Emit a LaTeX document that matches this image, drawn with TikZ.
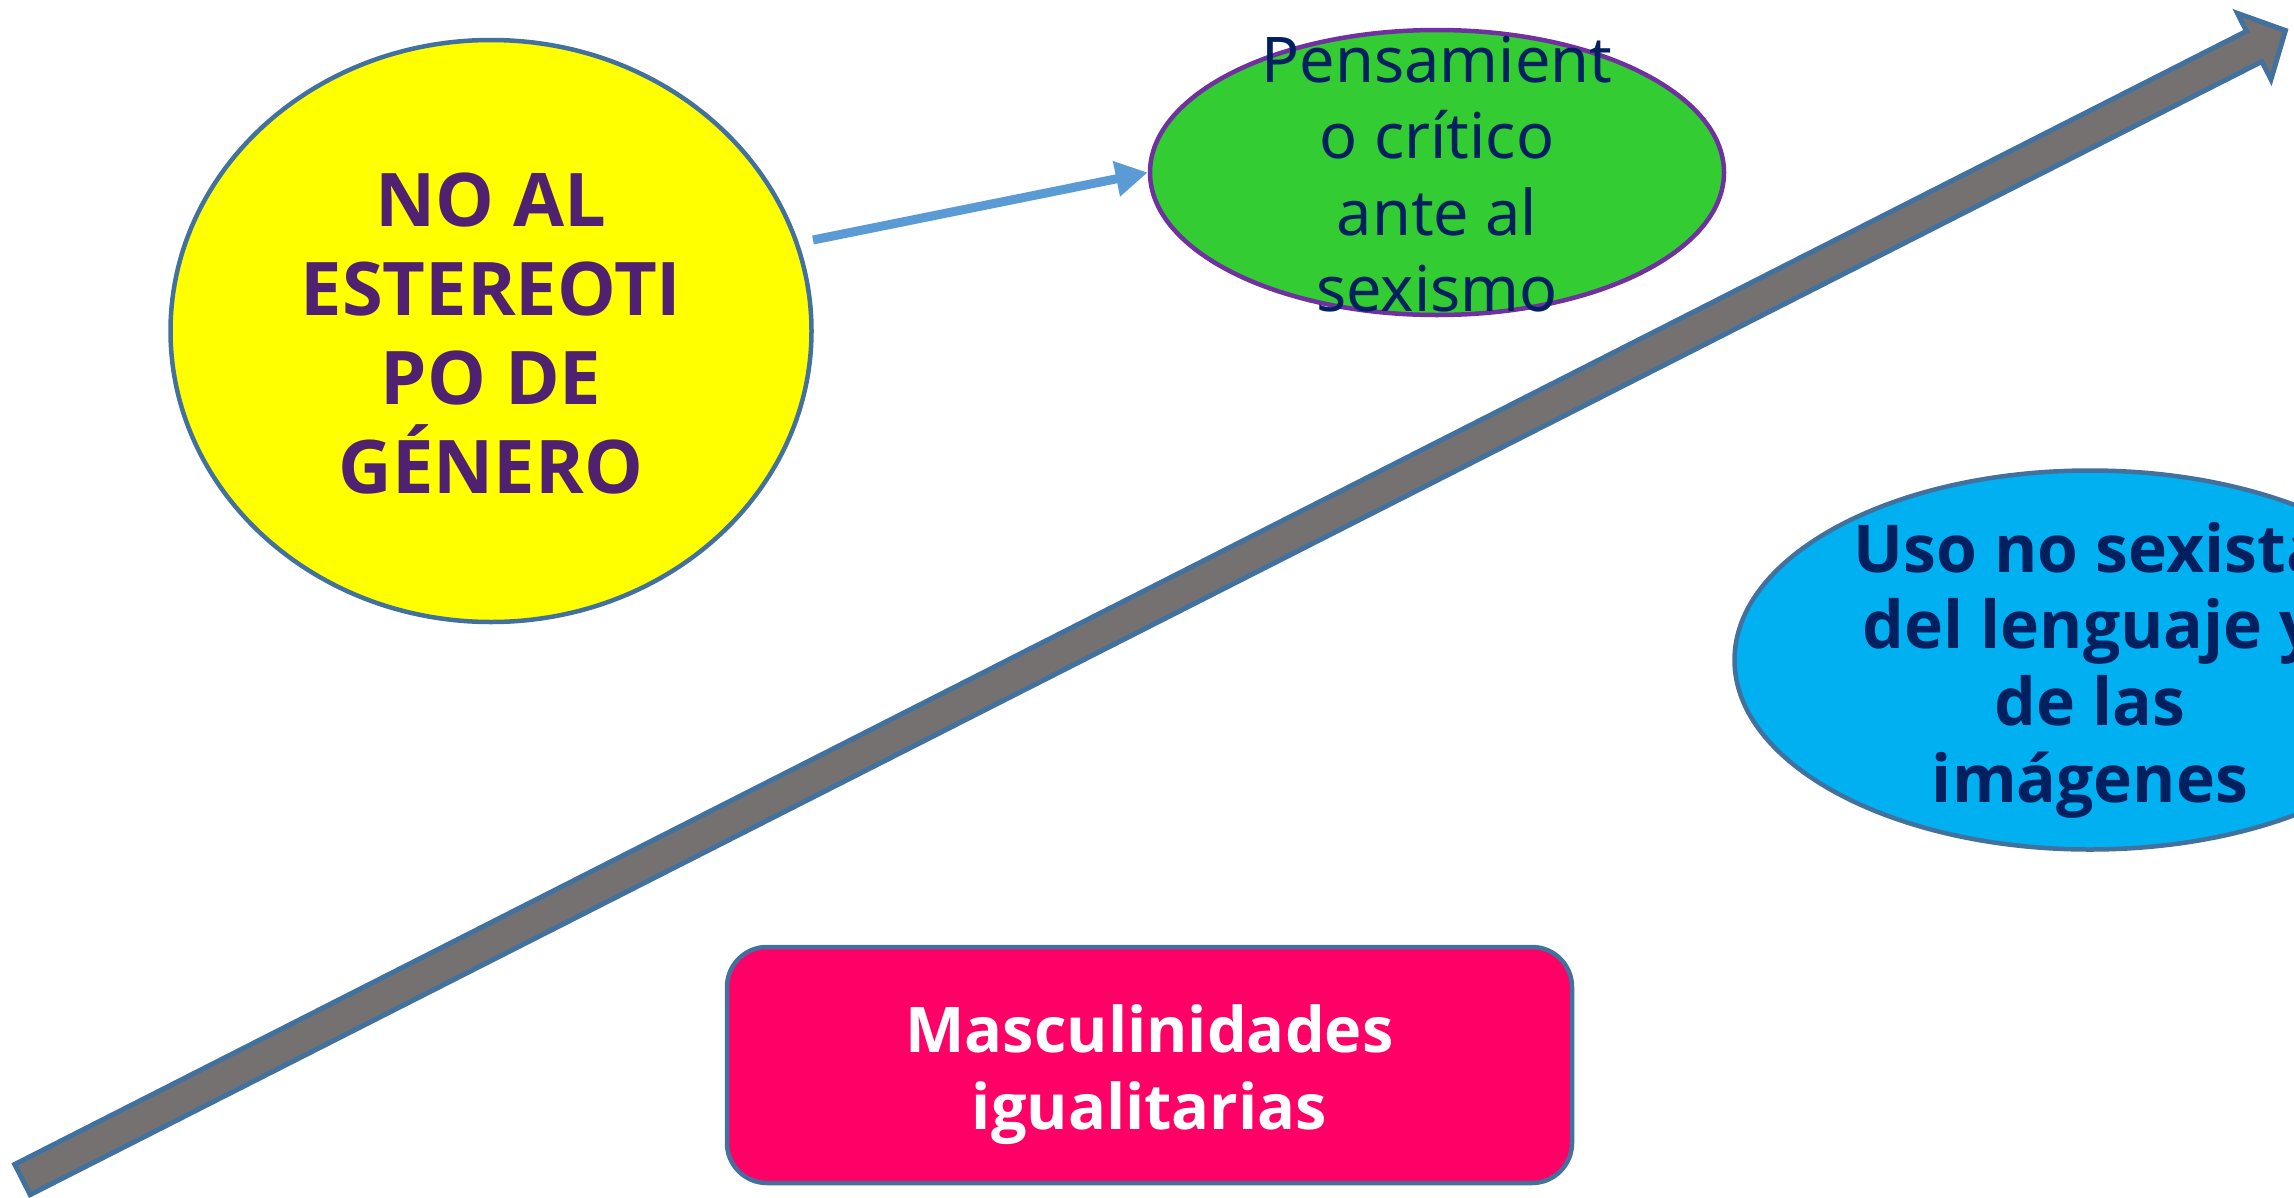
\documentclass[tikz,border=0pt]{standalone}
\usepackage{fontspec}
\setmainfont{Noto Sans}
\newfontfamily\boldsans{Open Sans}
\usetikzlibrary{shapes.geometric,arrows.meta}
\definecolor{edgeblue}{HTML}{41719C}
\definecolor{ylw}{HTML}{FFFF00}
\definecolor{grn}{HTML}{33CC33}
\definecolor{grnedge}{HTML}{7030A0}
\definecolor{cyanb}{HTML}{00B0F0}
\definecolor{pinkr}{HTML}{FF0066}
\definecolor{navy}{HTML}{002060}
\definecolor{purp}{HTML}{4F2170}
\definecolor{grey}{HTML}{767171}
\definecolor{arrowblue}{HTML}{5B9BD5}
\begin{document}
\begin{tikzpicture}[x=1pt,y=-1pt,
  shapebox/.style={draw=edgeblue, line width=4.5pt, inner sep=0pt},
  txt/.style={align=center, inner sep=0pt},
  smallarrow/.style={draw=arrowblue, line width=9pt, -{Triangle[length=32pt,width=34pt]}},
  bigarrow/.style={draw=edgeblue, fill=grey, line width=5pt, line join=miter}
]
\useasboundingbox (0,0) rectangle (2294,1197);
\clip (0,0) rectangle (2294,1197);

% big diagonal arrow
\begin{scope}[shift={(22.5,1179.5)}, rotate=26.92]
  \path[bigarrow] (0,-17) -- (2503,-17) -- (2503,-37) -- (2538,0) -- (2503,37) -- (2503,17) -- (0,17) -- cycle;
\end{scope}

% shapes
\node[shapebox, ellipse, fill=ylw, minimum width=641pt, minimum height=582pt] (yel) at (491,331) {};
\node[shapebox, ellipse, fill=grn, draw=grnedge, minimum width=574pt, minimum height=285pt] (gre) at (1437,172.5) {};
\node[shapebox, ellipse, fill=cyanb, minimum width=711pt, minimum height=379pt] (blu) at (2090,660) {};
\node[shapebox, rectangle, rounded corners=40pt, fill=pinkr, minimum width=845pt, minimum height=236pt] (pnk) at (1149.5,1065) {};

% texts
\node[txt, text=purp, font=\boldsans\fontsize{74}{89}\selectfont\bfseries] (yelt) at (491,334)
  {NO AL\\ESTEREOTI\\PO DE\\GÉNERO};
\node[txt, text=navy, font=\fontsize{63}{76.5}\selectfont] (gret) at (1437,174)
  {Pensamient\\o crítico\\ante al\\sexismo};
\node[txt, text=navy, font=\boldsans\fontsize{66}{76.7}\selectfont\bfseries] (blut) at (2090,670)
  {Uso no sexista\\del lenguaje y\\de las\\imágenes};
\node[txt, text=white, font=\boldsans\fontsize{63}{77}\selectfont\bfseries] (pnkt) at (1149.5,1075)
  {Masculinidades\\igualitarias};

% small connector
\coordinate (a1) at (813,240);
\draw[smallarrow] (a1) -- (gre.west);
\end{tikzpicture}
\end{document}
